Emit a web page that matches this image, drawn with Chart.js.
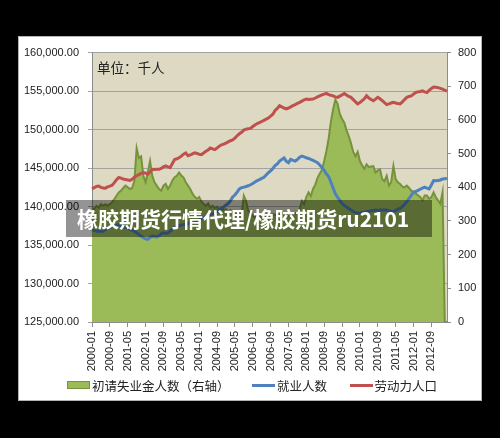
<!DOCTYPE html>
<html>
<head>
<meta charset="utf-8">
<script src="https://cdn.jsdelivr.net/npm/chart.js@4/dist/chart.umd.min.js"></script>
<style>
  html, body { margin: 0; padding: 0; background: #000; }
  body { width: 500px; height: 438px; position: relative; overflow: hidden; }
  #panel { position: absolute; left: 18px; top: 36px; width: 464px; height: 365px; box-sizing: border-box; border: 1px solid #b4b4b4; background: #fff; }
  #panel canvas { position: absolute; left: 0; top: 0; }
  #legend { position: absolute; left: 67px; top: 377px; height: 16px; display: flex; align-items: center;
    font: 12.5px "Noto Sans CJK SC"; color: #222; white-space: nowrap; }
  #legend .item { display: flex; align-items: center; margin-right: 22.5px; }
  #legend .swatch { display: inline-block; width: 23px; margin-right: 2px; box-sizing: border-box; }
  #legend .area { height: 8px; border: 1px solid; }
  #legend .line { height: 3px; }
  #banner { position: absolute; left: 66px; top: 200px; width: 366px; height: 37px; box-sizing: border-box; padding-left: 11px;
    background: rgba(0, 0, 0, 0.42); color: #fff; font: bold 21px "Noto Sans CJK SC"; line-height: 37px; white-space: nowrap; }
</style>
</head>
<body>
<div id="panel"><canvas id="labor-chart" width="462" height="363"></canvas></div>
<div id="legend"></div>
<div id="banner">橡胶期货行情代理/橡胶期货ru2101</div>
<script>
// monthly, 2000-01 .. 2013-04
const claims = [
  340, 335, 345, 340, 350, 345, 350, 345, 350, 356, 365, 375,
  385, 390, 398, 405, 400, 395, 398, 420, 516, 487, 492, 434,
  415, 444, 478, 434, 415, 405, 395, 390, 405, 410, 395, 405,
  420, 430, 434, 444, 435, 429, 415, 405, 395, 381, 372, 366,
  371, 358, 350, 345, 352, 340, 345, 338, 342, 335, 340, 332,
  335, 328, 332, 325, 330, 322, 328, 320, 375, 360, 330, 325,
  315, 310, 318, 312, 320, 315, 318, 322, 316, 320, 318, 322,
  318, 325, 320, 322, 315, 318, 320, 322, 328, 335, 359, 350,
  371, 385, 374, 395, 408, 428, 440, 452, 478, 508, 545, 595,
  632, 660, 648, 618, 603, 592, 569, 552, 531, 505, 492, 505,
  478, 465, 455, 468, 460, 462, 463, 444, 450, 453, 424, 418,
  434, 405, 415, 463, 424, 415, 410, 402, 400, 405, 398, 390,
  385, 381, 376, 371, 361, 376, 376, 366, 371, 385, 370, 361,
  351, 385, 0, 0
]

const employed = [
  137010, 136900, 136790, 136800, 136790, 136790, 137000, 137210, 137300, 137400, 137430, 137550,
  137640, 137500, 137400, 137300, 137210, 137050, 136900, 136790, 136600, 136350, 136150, 135950,
  135800, 135740, 136000, 136150, 136100, 136030, 136200, 136450, 136580, 136500, 136580, 136800,
  137010, 137250, 137430, 137500, 137600, 137640, 137700, 137800, 137850, 137900, 137980, 138060,
  138250, 138450, 138600, 138700, 138850, 138950, 139050, 139120, 139350, 139550, 139760, 139950,
  140200, 140390, 140750, 141240, 141500, 141880, 142300, 142450, 142520, 142600, 142700, 142830,
  143000, 143200, 143370, 143500, 143650, 143790, 144100, 144400, 144640, 144950, 145310, 145550,
  145910, 146100, 146330, 145900, 145700, 146120, 146000, 145910, 146100, 146400, 146550, 146450,
  146330, 146250, 146120, 146000, 145850, 145700, 145400, 145060, 144700, 144210, 143900, 143150,
  142400, 141660, 141200, 140820, 140390, 140150, 139950, 139760, 139550, 139350, 139200, 139120,
  139150, 139200, 139250, 139340, 139400, 139450, 139500, 139550, 139500, 139550, 139550, 139550,
  139550, 139450, 139400, 139340, 139500, 139650, 139760, 140000, 140300, 140610, 141050, 141450,
  141880, 141950, 142100, 142250, 142400, 142520, 142400, 142300, 142800, 143370, 143350, 143370,
  143450, 143570, 143620, 143660
]

const laborForce = [
  142300, 142450, 142600, 142650, 142500, 142400, 142390, 142550, 142650, 142770, 143100, 143500,
  143790, 143700, 143570, 143500, 143450, 143400, 143550, 143800, 144000, 144150, 144300, 144420,
  144350, 144210, 144500, 144840, 144800, 144850, 144840, 144950, 145150, 145280, 145150, 145060,
  145600, 146120, 146200, 146330, 146550, 146800, 146970, 146590, 146700, 146850, 146970, 146900,
  146800, 146750, 146950, 147180, 147350, 147600, 147500, 147390, 147600, 147850, 148020, 148100,
  148240, 148400, 148550, 148660, 148900, 149200, 149450, 149650, 149930, 150050, 150100, 150150,
  150400, 150600, 150780, 150900, 151050, 151200, 151350, 151500, 151740, 152000, 152480, 152750,
  153110, 152950, 152800, 152690, 152800, 152950, 153110, 153250, 153400, 153540, 153700, 153850,
  153960, 153900, 153950, 153960, 154100, 154250, 154380, 154500, 154600, 154690, 154550, 154450,
  154380, 154250, 154180, 154350, 154500, 154690, 154500, 154300, 154180, 153900, 153600, 153330,
  153500, 153750, 154000, 154380, 154100, 153900, 153750, 153950, 154180, 154000, 153750, 153500,
  153240, 153350, 153450, 153540, 153450, 153380, 153330, 153600, 153900, 154180, 154300, 154380,
  154600, 154820, 154900, 154950, 155020, 154900, 154820, 155100, 155350, 155530, 155500, 155450,
  155350, 155250, 155110, 155000
]

const tickLabels = [
  '2000-01', '2000-09', '2001-05', '2002-01', '2002-09', '2003-05', '2004-01', '2004-09',
  '2005-05', '2006-01', '2006-09', '2007-05', '2008-01', '2008-09', '2009-05', '2010-01',
  '2010-09', '2011-05', '2012-01', '2012-09'
]

const months = []
for (let i = 0; i < claims.length; i++) {
  const y = 2000 + Math.floor(i / 12)
  const m = i % 12 + 1
  months.push(y + '-' + (m < 10 ? '0' + m : m))
}

const axisGray = '#8c8c8c'
const tickFont = { family: 'Liberation Sans', size: 11 }

const plotBg = {
  id: 'plotBg',
  beforeDraw(chart) {
    const { ctx, chartArea: a } = chart
    ctx.save()
    ctx.fillStyle = '#ddd9c3'
    ctx.fillRect(a.left, a.top, a.right - a.left, a.bottom - a.top)
    ctx.restore()
  },
  afterDraw(chart) {
    const { ctx } = chart
    ctx.save()
    ctx.fillStyle = '#222'
    ctx.font = '13.5px "Noto Sans CJK SC"'
    ctx.textBaseline = 'middle'
    ctx.fillText('单位：千人', 78, 31)
    ctx.restore()
  }
}

const data = {
  labels: months,
  datasets: [
    {
      label: '初请失业金人数（右轴）',
      data: claims,
      yAxisID: 'y1',
      fill: 'start',
      backgroundColor: '#9bbb59',
      borderColor: '#76923c',
      borderWidth: 2,
      pointRadius: 0,
      order: 2,
    },
    {
      label: '就业人数',
      data: employed,
      yAxisID: 'y',
      fill: false,
      borderColor: '#4f81bd',
      borderWidth: 3,
      pointRadius: 0,
      order: 1,
    },
    {
      label: '劳动力人口',
      data: laborForce,
      yAxisID: 'y',
      fill: false,
      borderColor: '#c0504d',
      borderWidth: 3,
      pointRadius: 0,
      order: 1,
    },
  ],
}

const config = {
  type: 'line',
  data: data,
  plugins: [plotBg],
  options: {
    responsive: false,
    animation: false,
    layout: { padding: { top: 11, left: 0, right: 0, bottom: 0 } },
    plugins: {
      tooltip: { enabled: false },
      legend: { display: false },
    },
    scales: {
      x: {
        grid: {
          drawOnChartArea: false,
          tickLength: 5,
          color: ctx => tickLabels.includes(months[ctx.index]) ? axisGray : 'rgba(0,0,0,0)',
        },
        border: { color: axisGray },
        ticks: {
          autoSkip: false,
          minRotation: 90,
          maxRotation: 90,
          padding: 4,
          color: '#222',
          font: tickFont,
          callback: (v, i) => tickLabels.includes(months[i]) ? months[i] : '',
        },
        afterFit: s => { s.height = 78 },
      },
      y: {
        position: 'left',
        min: 125000,
        max: 160000,
        ticks: {
          stepSize: 5000,
          padding: 9,
          color: '#222',
          font: tickFont,
          callback: v => v.toLocaleString('en-US', { minimumFractionDigits: 2, maximumFractionDigits: 2 }),
        },
        grid: { color: '#a3a3a3', tickLength: 4 },
        border: { color: axisGray },
        afterFit: s => { s.width = 73 },
      },
      y1: {
        position: 'right',
        min: 0,
        max: 800,
        ticks: { stepSize: 100, padding: 7, color: '#222', font: tickFont },
        grid: { drawOnChartArea: false, color: axisGray, tickLength: 4 },
        border: { color: axisGray },
        afterFit: s => { s.width = 34 },
      },
    },
  },
}

const laborChart = new Chart(document.querySelector('#labor-chart').getContext('2d'), config)

// legend in html, colours taken from the datasets
const legendBox = document.querySelector('#legend')
laborChart.data.datasets.forEach((ds, i) => {
  const item = document.createElement('span')
  item.className = 'item'
  const swatch = document.createElement('span')
  swatch.className = i === 0 ? 'swatch area' : 'swatch line'
  swatch.style.background = ds.backgroundColor || ds.borderColor
  if (i === 0) swatch.style.borderColor = ds.borderColor
  item.appendChild(swatch)
  item.appendChild(document.createTextNode(ds.label))
  legendBox.appendChild(item)
})
</script>
</body>
</html>
